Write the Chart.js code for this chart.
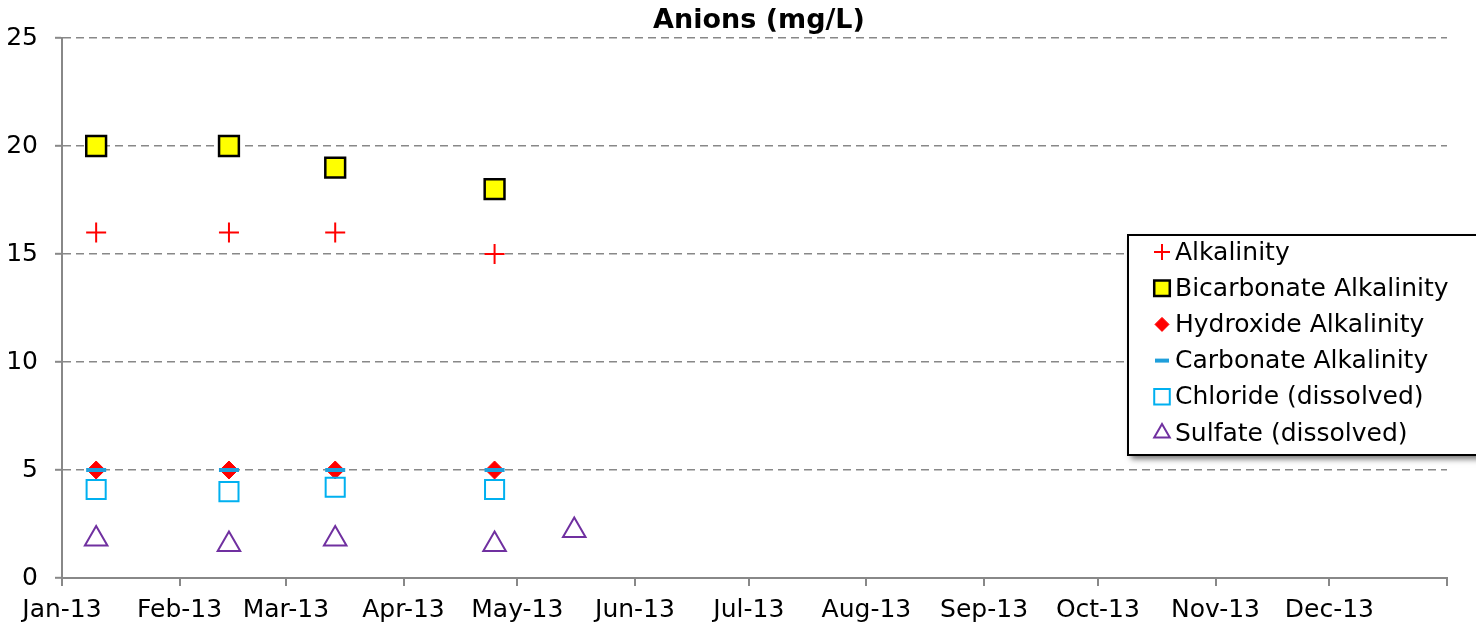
<!DOCTYPE html>
<html>
<head>
<meta charset="utf-8">
<script src="https://cdn.jsdelivr.net/npm/chart.js@4"></script>
<style>
  html, body { margin: 0; padding: 0; background: #fff; }
  #wrap { width: 1476px; height: 631px; }
</style>
</head>
<body>
<div id="wrap"><canvas id="chart" width="1476" height="631"></canvas></div>
<script>
// x values are days since 1 Jan 2013
const monthStarts = [0, 31, 59, 90, 120, 151, 181, 212, 243, 273, 304, 334, 365];
const monthLabels = ["Jan-13", "Feb-13", "Mar-13", "Apr-13", "May-13", "Jun-13", "Jul-13",
                     "Aug-13", "Sep-13", "Oct-13", "Nov-13", "Dec-13", ""];
const sampleDays = [9, 44, 72, 114, 135];

const alkalinity  = [16, 16, 16, 15, null];
const bicarbonate = [20, 20, 19, 18, null];
const hydroxide   = [5, 5, 5, 5, null];
const carbonate   = [5, 5, 5, 5, null];
const chloride    = [4.1, 4.0, 4.2, 4.1, null];
const sulfate     = [1.8, 1.55, 1.8, 1.55, 2.2];

const yTicks = [0, 5, 10, 15, 20, 25];

const font = "'DejaVu Sans', sans-serif";

function pts(values) {
    return values.map((v, i) => ({ x: sampleDays[i], y: v }));
}

let datasets = [
    { label: "Alkalinity", data: pts(alkalinity), pointStyle: "cross", radius: 10, borderWidth: 2,
      borderColor: "#ff0000", backgroundColor: "#ff0000", legendRadius: 8 },
    { label: "Bicarbonate Alkalinity", data: pts(bicarbonate), pointStyle: "rect", radius: 14, borderWidth: 2.5,
      borderColor: "#000000", backgroundColor: "#ffff00", legendRadius: 11 },
    { label: "Hydroxide Alkalinity", data: pts(hydroxide), pointStyle: "rectRot", radius: 9, borderWidth: 1,
      borderColor: "#ff0000", backgroundColor: "#ff0000", legendRadius: 7 },
    { label: "Carbonate Alkalinity", data: pts(carbonate), pointStyle: "line", radius: 10, borderWidth: 4,
      borderColor: "#1f9fdb", backgroundColor: "#1f9fdb", legendRadius: 7 },
    { label: "Chloride (dissolved)", data: pts(chloride), pointStyle: "rect", radius: 13.5, borderWidth: 2,
      borderColor: "#00b0f0", backgroundColor: "rgba(255,255,255,0)", legendRadius: 11 },
    { label: "Sulfate (dissolved)", data: pts(sulfate), pointStyle: "triangle", radius: 13, borderWidth: 2,
      borderColor: "#7030a0", backgroundColor: "rgba(255,255,255,0)", legendRadius: 9 }
];
datasets.forEach((d, i) => {
    d.showLine = false;
    d.order = 10 - i;
    d.pointRadius = d.radius;
    d.pointHoverRadius = d.radius;
    d.pointBorderWidth = d.borderWidth;
    d.pointBorderColor = d.borderColor;
    d.pointBackgroundColor = d.backgroundColor;
});

// title + boxed legend drawn by hand, like the spreadsheet
const extras = {
    id: "extras",
    afterDraw(chart) {
        const ctx = chart.ctx;
        ctx.save();
        ctx.fillStyle = "#000";
        ctx.font = "bold 27px " + font;
        ctx.textAlign = "center";
        ctx.textBaseline = "middle";
        ctx.fillText("Anions (mg/L)", 759, 21);

        // legend box
        const bx = 1128, by = 235, bw = 360, bh = 220;
        ctx.shadowColor = "rgba(0,0,0,0.55)";
        ctx.shadowBlur = 6;
        ctx.shadowOffsetX = 3;
        ctx.shadowOffsetY = 4;
        ctx.fillStyle = "#fff";
        ctx.fillRect(bx, by, bw, bh);
        ctx.shadowColor = "transparent";
        ctx.lineWidth = 2;
        ctx.strokeStyle = "#000";
        ctx.strokeRect(bx, by, bw, bh);

        ctx.font = "25px " + font;
        ctx.textAlign = "left";
        chart.data.datasets.forEach((d, i) => {
            const y = 252 + i * 36.2;
            ctx.fillStyle = d.backgroundColor;
            ctx.strokeStyle = d.borderColor;
            ctx.lineWidth = d.borderWidth;
            Chart.helpers.drawPoint(ctx, {
                pointStyle: d.pointStyle, radius: d.legendRadius, rotation: 0, borderWidth: d.borderWidth
            }, 1162, y);
            ctx.fillStyle = "#000";
            ctx.fillText(d.label, 1175, y + 1);
        });
        ctx.restore();
    }
};

let chart = new Chart(document.getElementById("chart").getContext("2d"), {
    type: "scatter",
    data: { datasets: datasets },
    plugins: [extras],
    options: {
        responsive: false,
        animation: false,
        layout: { padding: { top: 38, right: 29, left: 0, bottom: 0 } },
        plugins: {
            legend: { display: false },
            title: { display: false },
            tooltip: { enabled: false }
        },
        scales: {
            x: {
                type: "linear",
                min: 0,
                max: 365,
                afterBuildTicks: (scale) => { scale.ticks = monthStarts.map(v => ({ value: v })); },
                afterFit: (scale) => { scale.height = 53; },
                ticks: {
                    autoSkip: false,
                    maxRotation: 0,
                    padding: 9,
                    color: "#000",
                    font: { family: font, size: 25 },
                    callback: (v, i) => monthLabels[i]
                },
                grid: { drawOnChartArea: false, drawTicks: true, tickLength: 8, color: "#888", lineWidth: 2 },
                border: { color: "#888", width: 2 }
            },
            y: {
                min: 0,
                max: 25,
                afterBuildTicks: (scale) => { scale.ticks = yTicks.map(v => ({ value: v })); },
                afterFit: (scale) => { scale.width = 62; },
                ticks: {
                    padding: 17,
                    color: "#000",
                    font: { family: font, size: 25 }
                },
                grid: { color: "#888", lineWidth: 1.6, tickLength: 7, tickColor: "#888", tickWidth: 2 },
                border: { color: "#888", width: 2, dash: [8, 5] }
            }
        }
    }
});
</script>
</body>
</html>
